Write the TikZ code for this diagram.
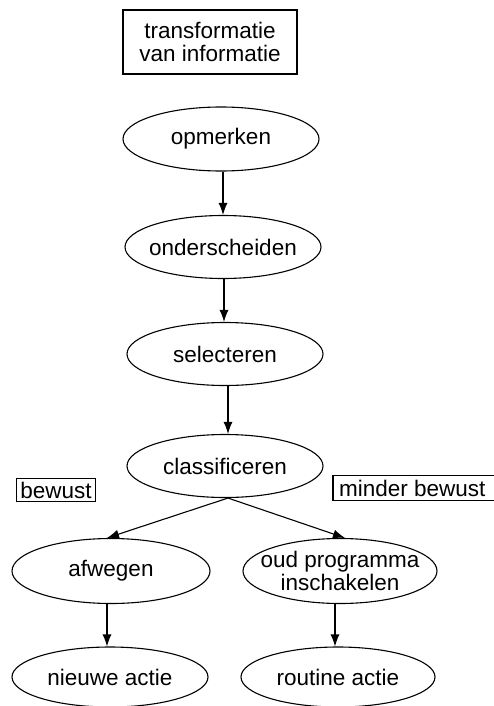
\documentclass[tikz,border=0pt]{standalone}
\usepackage{fontspec}
\setmainfont{Liberation Sans}
\usetikzlibrary{shapes.geometric,arrows.meta}
% zero-width line so the ellipse keeps its set size
\newcommand{\zl}[1]{\makebox[0pt][c]{#1}}
\begin{document}
\begin{tikzpicture}[x=1pt,y=-1pt,
  every node/.style={font=\fontsize{22.5}{23}\selectfont, inner sep=0pt},
  oval/.style={ellipse, draw, line width=1.1pt, minimum width=196pt, minimum height=63pt, align=center},
  label box/.style={draw, line width=1.1pt, inner xsep=4pt, inner ysep=3pt},
  flow/.style={line width=1.1pt, -{Latex[length=12pt,width=9pt]}}
]
\useasboundingbox (0,0) rectangle (494,706);
\coordinate (rim) at (494,0);

% title box
\node[draw, line width=1.1pt, minimum width=174pt, minimum height=64pt, align=center] (title) at (210,42) {transformatie\\van informatie};

% main chain
\node[oval, minimum height=64pt] (opm) at (221,139) {\zl{opmerken}};
\node[oval] (ond) at (223,247) {\zl{onderscheiden}};
\node[oval] (sel) at (225,354) {\zl{selecteren}};
\node[oval] (cls) at (225,466) {\zl{classificeren}};

% side labels; the right one is open where it meets the edge of the page
\node[label box] (bew) at (56,490) {bewust};
\node[inner xsep=6pt, inner ysep=4pt, anchor=west] (mbew) at (333,488) {minder bewust};
\draw[line width=1.1pt] (mbew.north west -| rim) -- (mbew.north west)
  -- (mbew.south west) -- (mbew.south west -| rim);

% branches
\node[oval, minimum width=198pt, minimum height=65pt] (afw) at (111,571) {\zl{afwegen}};
\node[oval, minimum width=194pt, minimum height=65pt] (oud) at (340,571) {\zl{oud programma}\\\zl{inschakelen}};
\node[oval, minimum width=196pt, minimum height=60pt] (nie) at (110,677) {\zl{nieuwe actie}};
\node[oval, minimum width=194pt, minimum height=60pt] (rou) at (338,677) {\zl{routine actie}};

% connectors
\draw[flow] ([xshift=2pt]opm.south) -- ([xshift=2pt]opm.south |- ond.north);
\draw[flow] ([xshift=1pt]ond.south) -- ([xshift=1pt]ond.south |- sel.north);
\draw[flow] ([xshift=3pt]sel.south) -- ([xshift=3pt]sel.south |- cls.north);
\draw[flow] ([xshift=3pt]cls.south) -- ([xshift=-4pt]afw.north);
\draw[flow] ([xshift=3pt]cls.south) -- ([xshift=5pt]oud.north);
\draw[flow] ([xshift=-4pt]afw.south) -- ([xshift=-4pt]afw.south |- nie.north);
\draw[flow] ([xshift=-5pt]oud.south) -- ([xshift=-5pt]oud.south |- rou.north);
\end{tikzpicture}
\end{document}
